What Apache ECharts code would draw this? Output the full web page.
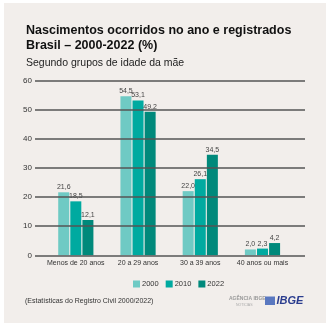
<!DOCTYPE html>
<html>
<head>
<meta charset="utf-8">
<script src="https://cdn.jsdelivr.net/npm/echarts@6/dist/echarts.min.js"></script>
<style>html,body{margin:0;padding:0;background:#fff}#c{width:330px;height:329px}</style>
</head>
<body>
<div id="c"></div>
<script>
const categories = ['Menos de 20 anos', '20 a 29 anos', '30 a 39 anos', '40 anos ou mais'];
const seriesNames = ['2000', '2010', '2022'];
const values2000 = [21.6, 54.5, 22.0, 2.0];
const values2010 = [18.5, 53.1, 26.1, 2.3];
const values2022 = [12.1, 49.2, 34.5, 4.2];
const yTicks = [0, 10, 20, 30, 40, 50, 60];
const colors = ['#6fcac4', '#00aaa0', '#00897b'];

const font = 'Liberation Sans, Arial, sans-serif';
const chart = echarts.init(document.getElementById('c'), null, {renderer: 'canvas'});
const allValues = [values2000, values2010, values2022];

const gridTop = 80.3, gridBottom = 329 - 255.3;

chart.setOption({
  animation: false,
  backgroundColor: '#ffffff',
  textStyle: {fontFamily: font},
  graphic: [
    {type: 'rect', z: -10, shape: {x: 4, y: 3, width: 322, height: 320}, style: {fill: '#f2eeeb'}},
    {type: 'text', left: 26, top: 24, style: {text: 'Nascimentos ocorridos no ano e registrados', font: 'bold 12.5px ' + font, fill: '#111'}},
    {type: 'text', left: 26, top: 39.5, style: {text: 'Brasil – 2000-2022 (%)', font: 'bold 12.5px ' + font, fill: '#111'}},
    {type: 'text', left: 26, top: 57.5, style: {text: 'Segundo grupos de idade da mãe', font: '10.5px ' + font, fill: '#222'}},
    {type: 'text', left: 25, top: 298, style: {text: '(Estatísticas do Registro Civil 2000/2022)', font: '7px ' + font, fill: '#333'}},
    {type: 'text', left: 229, top: 296, style: {text: 'AGÊNCIA IBGE', font: 'bold 5px ' + font, fill: '#9a9a9a'}},
    {type: 'text', left: 236, top: 303, style: {text: 'NOTÍCIAS', font: '3.5px ' + font, fill: '#aaa'}},
    {type: 'rect', shape: {x: 265, y: 296.5, width: 10, height: 8.5}, style: {fill: '#5a78c0'}},
    {type: 'text', left: 276.5, top: 295, style: {text: 'IBGE', font: 'italic bold 11px ' + font, fill: '#2a3c8e'}}
  ],
  legend: {
    left: 128, top: 275,
    itemWidth: 7, itemHeight: 7, itemGap: 7,
    icon: 'rect',
    textStyle: {fontSize: 7.5, color: '#333', padding: [0, 0, 0, -3]},
    data: seriesNames
  },
  grid: [
    {left: 35, right: 25, top: gridTop, bottom: gridBottom},
    {left: 44.7, right: 36.4, top: gridTop, bottom: gridBottom}
  ],
  xAxis: [
    {type: 'category', gridIndex: 0, show: false, data: categories},
    {type: 'category', gridIndex: 1, data: categories,
     axisLine: {show: false}, axisTick: {show: false},
     axisLabel: {fontSize: 7, color: '#333', margin: 4, interval: 0}}
  ],
  yAxis: [
    {type: 'value', gridIndex: 0, min: yTicks[0], max: yTicks[yTicks.length - 1], interval: 10, zlevel: 1, z: 5,
     axisLine: {show: false}, axisTick: {show: false},
     axisLabel: {fontSize: 8, color: '#333', margin: 3},
     splitLine: {lineStyle: {color: '#555', width: 1.5}}},
    {type: 'value', gridIndex: 1, min: yTicks[0], max: yTicks[yTicks.length - 1], show: false, splitLine: {show: false}}
  ],
  series: seriesNames.map((n, i) => ({
    name: n, type: 'bar', xAxisIndex: 1, yAxisIndex: 1,
    data: allValues[i], barWidth: 11, barGap: '10%',
    itemStyle: {color: colors[i]},
    label: {show: true, position: 'top', distance: 1.5, fontSize: 7, color: '#444',
      formatter: p => p.value.toFixed(1).replace('.', ',')}
  }))
});
</script>
</body>
</html>
